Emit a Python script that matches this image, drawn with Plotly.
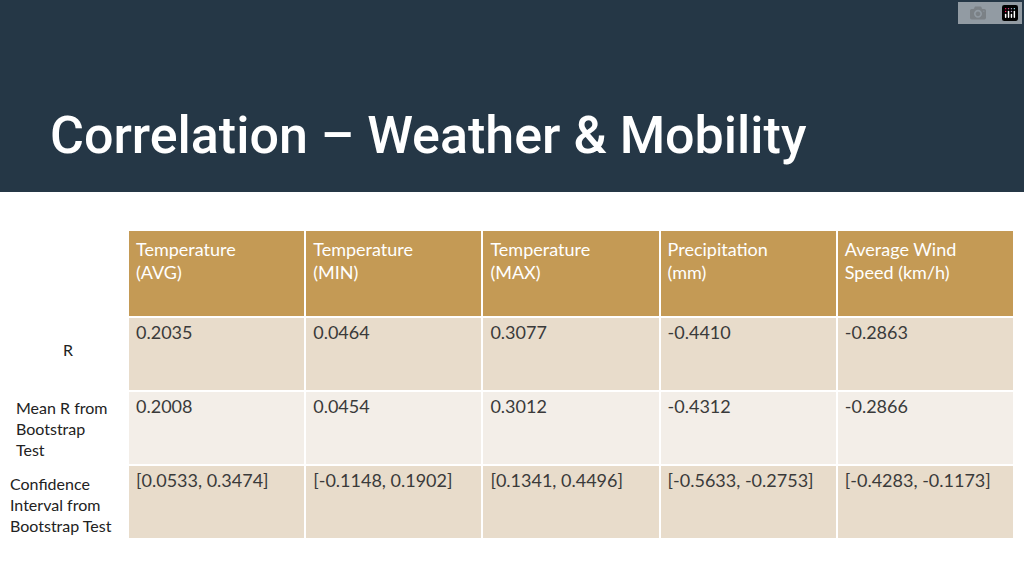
import plotly.graph_objects as go

columns = ["Temperature<br>(AVG)", "Temperature<br>(MIN)", "Temperature<br>(MAX)",
           "Precipitation<br>(mm)", "Average Wind<br>Speed (km/h)"]
r_values = ["0.2035", "0.0464", "0.3077", "-0.4410", "-0.2863"]
mean_r = ["0.2008", "0.0454", "0.3012", "-0.4312", "-0.2866"]
conf_int = ["[0.0533, 0.3474]", "[-0.1148, 0.1902]", "[0.1341, 0.4496]",
            "[-0.5633, -0.2753]", "[-0.4283, -0.1173]"]
row_labels = ["R", "Mean R from<br>Bootstrap<br>Test", "Confidence<br>Interval from<br>Bootstrap Test"]

cells = [[r_values[i], mean_r[i], conf_int[i]] for i in range(len(columns))]
row_colors = ["#E8DCCB", "#F3EEE8", "#E8DCCB"]

fig = go.Figure(go.Table(
    domain=dict(x=[128 / 1024, 1014 / 1024], y=[1 - 540 / 576, 1 - 230 / 576]),
    columnwidth=[1] * 5,
    header=dict(values=columns, fill_color="#C49A55", line_color="white", line_width=2,
                align="left", height=87,
                font=dict(family="Lato, Noto Sans", size=18, color="white")),
    cells=dict(values=cells, fill_color=[row_colors] * 5, line_color="white", line_width=2,
               align="left", height=74,
               font=dict(family="Lato, Noto Sans", size=18, color="#3a3a3a")),
))

# dark title band
fig.add_shape(type="rect", xref="paper", yref="paper", x0=0, x1=1, y0=1 - 192 / 576, y1=1,
              fillcolor="#253746", line_width=0, layer="below")
fig.add_annotation(text="Correlation – Weather & Mobility", xref="paper", yref="paper",
                   x=48 / 1024, y=1 - 135 / 576, xanchor="left", yanchor="middle",
                   showarrow=False,
                   font=dict(family="Roboto", size=52, weight=500, color="white"))

label_pos = [(68, 349, "center"), (14, 428, "left"), (8, 504, "left")]
for text, (px_, py_, anchor) in zip(row_labels, label_pos):
    fig.add_annotation(text=text, xref="paper", yref="paper", x=px_ / 1024, y=1 - py_ / 576,
                       xanchor=anchor, yanchor="middle",
                       align="left", showarrow=False,
                       font=dict(family="Lato, Noto Sans", size=16, color="#222"))

fig.update_layout(width=1024, height=576, margin=dict(l=0, r=0, t=0, b=0),
                  paper_bgcolor="white", plot_bgcolor="white")
fig.write_html("out.html", post_script="document.body.style.margin='0';")
